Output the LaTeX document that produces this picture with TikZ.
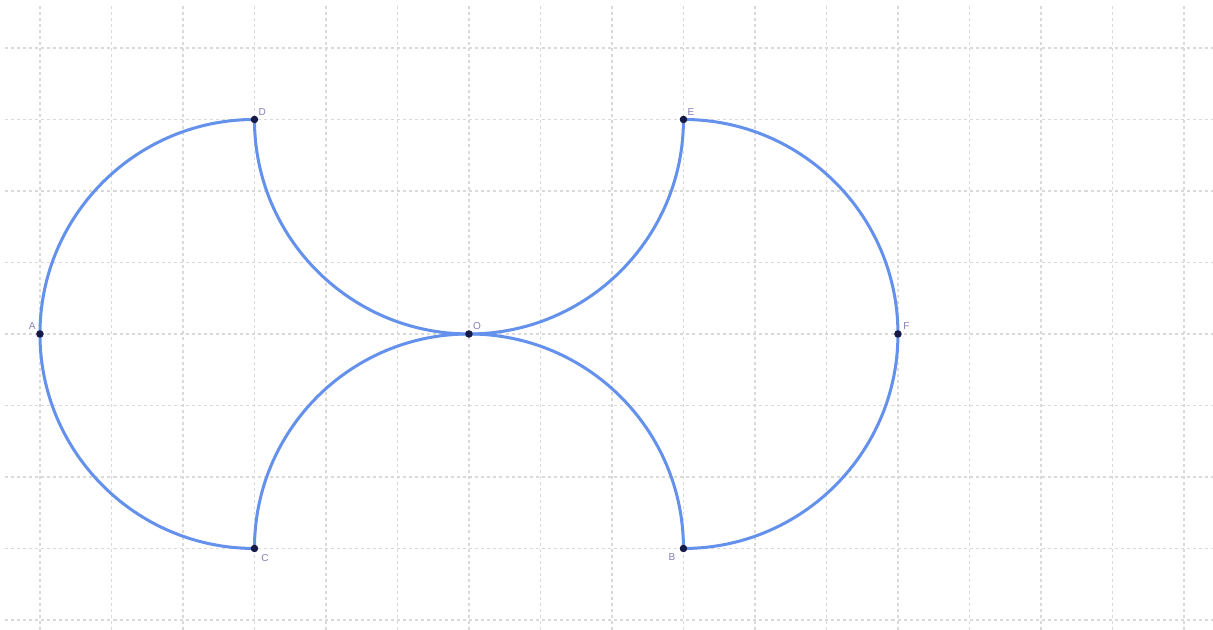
\documentclass[tikz,border=0pt]{standalone}
\usepackage{fontspec}
\setmainfont{Liberation Sans}
\definecolor{arcblue}{RGB}{100,145,235}
\definecolor{ptnavy}{RGB}{20,25,70}
\definecolor{lblpurple}{RGB}{135,125,185}
\begin{document}
\begin{tikzpicture}[
  gridline/.style={gray!30, line width=0.45pt, dash pattern=on 1.2pt off 1.2pt},
  arcline/.style={arcblue, line width=1.2pt},
  pt/.style={circle, fill=ptnavy, inner sep=0pt, minimum size=3pt},
  lbl/.style={text=lblpurple, font=\fontsize{4}{5}\selectfont, inner sep=1pt}
]
\useasboundingbox (-6.559,-4.140) rectangle (10.406,4.671);
% grid
\foreach \x in {-6,...,10} \draw[gridline] (\x,-4.140) -- (\x,4.60);
\foreach \y in {-4,...,4} \draw[gridline] (-6.49,\y) -- (10.406,\y);
% positions
\coordinate (pD) at (-3,3);
\coordinate (pC) at (-3,-3);
\coordinate (pE) at (3,3);
% arcs
\draw[arcline] (pD) arc[start angle=90, end angle=270, radius=3];
\draw[arcline] (pD) arc[start angle=180, end angle=360, radius=3];
\draw[arcline] (pC) arc[start angle=180, end angle=0, radius=3];
\draw[arcline] (pE) arc[start angle=90, end angle=-90, radius=3];
% points
\node[pt] (A) at (-6,0) {};
\node[pt] (D) at (pD) {};
\node[pt] (C) at (pC) {};
\node[pt] (O) at (0,0) {};
\node[pt] (E) at (pE) {};
\node[pt] (B) at (3,-3) {};
\node[pt] (F) at (6,0) {};
% labels
\node[lbl, anchor=south east] (lA) at ([xshift=-0.5pt,yshift=0.5pt]A.center) {A};
\node[lbl, anchor=south west] (lD) at ([xshift=0.5pt,yshift=0.5pt]D.center) {D};
\node[lbl, anchor=north west] (lC) at ([xshift=1.5pt,yshift=-1pt]C.center) {C};
\node[lbl, anchor=south west] (lO) at ([xshift=0.5pt,yshift=0.5pt]O.center) {O};
\node[lbl, anchor=south west] (lE) at ([xshift=0.5pt,yshift=0.5pt]E.center) {E};
\node[lbl, anchor=north east] (lB) at ([xshift=-2pt,yshift=-1pt]B.center) {B};
\node[lbl, anchor=south west] (lF) at ([xshift=1pt,yshift=0.5pt]F.center) {F};
\end{tikzpicture}
\end{document}
